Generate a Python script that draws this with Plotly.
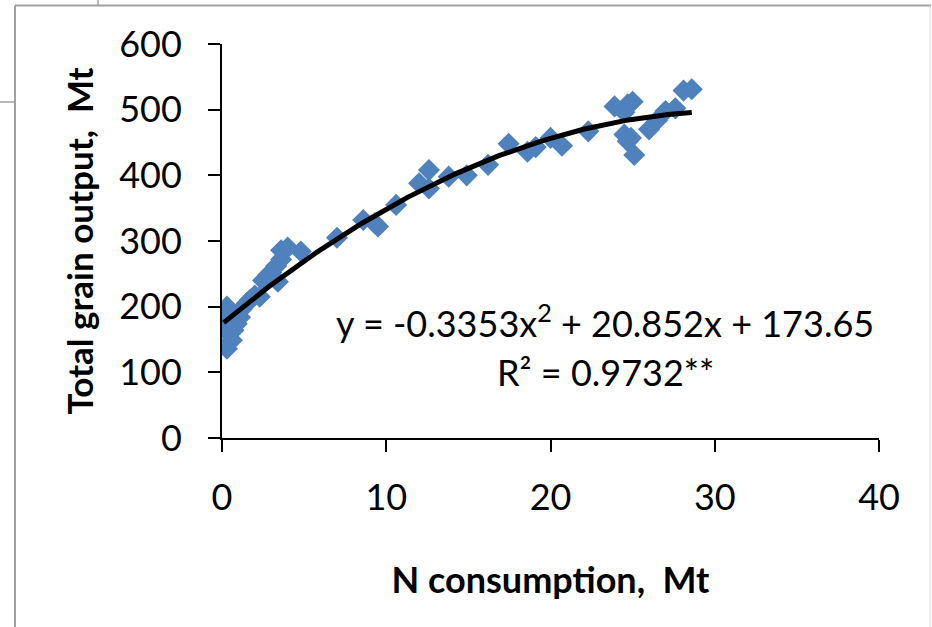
import numpy as np
import plotly.graph_objects as go

# N consumption (Mt) and total grain output (Mt)
n_consumption = [0.1, 0.2, 0.3, 0.3, 0.4, 0.5, 0.6, 0.7, 0.8, 0.9, 1.1, 1.2, 1.5, 1.7,
                 2.0, 2.3, 2.5, 2.8, 3.0, 3.4, 3.3, 3.6, 3.6, 4.0, 4.8,
                 7.0, 8.6, 9.3, 9.5, 10.6, 12.0, 12.6, 12.6, 13.8, 14.9, 16.2, 17.45,
                 18.6, 19.1, 20.0, 20.7, 22.3,
                 23.9, 24.5, 24.7, 25.0, 24.5, 24.7, 24.9, 25.1, 26.0, 26.5, 27.0,
                 27.6, 28.1, 28.6]
grain_output = [168, 187, 200, 136, 160, 193, 149, 164, 178, 174, 184, 196, 205, 210,
                217, 215, 240, 248, 252, 238, 262, 272, 286, 290, 284,
                305, 332, 327, 322, 355, 388, 408, 380, 398, 400, 416, 448,
                436, 443, 457, 445, 467,
                505, 496, 508, 512, 462, 452, 457, 431, 470, 484, 498,
                502, 529, 531]

# Fitted polynomial shown in the chart (highest order first)
fit_coeffs = [-0.3353, 20.852, 173.65]
equation_text = "y = -0.3353x<sup>2</sup> + 20.852x + 173.65"
r2_text = "R² = 0.9732**"

x_ticks = [0, 10, 20, 30, 40]
y_ticks = [0, 100, 200, 300, 400, 500, 600]

x_fit = np.linspace(min(n_consumption), max(n_consumption), 200)
y_fit = np.polyval(fit_coeffs, x_fit)

FONT = "Lato"
BLUE = "#4F81BD"

fig = go.Figure()
fig.add_trace(go.Scatter(
    x=n_consumption, y=grain_output, mode="markers",
    marker=dict(symbol="diamond", size=17, color=BLUE, line=dict(width=0)),
    showlegend=False, hoverinfo="x+y"))
fig.add_trace(go.Scatter(
    x=x_fit, y=y_fit, mode="lines",
    line=dict(color="black", width=5),
    showlegend=False, hoverinfo="skip"))

W, H = 932, 627
L, R, T, B = 222, 53, 44, 189
pw, ph = W - L - R, H - T - B


def px(xp):
    return (xp - L) / pw


def py(yp):
    return (H - B - yp) / ph


fig.update_layout(
    width=W, height=H,
    margin=dict(l=L, r=R, t=T, b=B, autoexpand=False),
    paper_bgcolor="white", plot_bgcolor="white",
    font=dict(family=FONT, color="black"),
    xaxis=dict(
        range=[0, 40], tickvals=x_ticks, ticktext=[str(v) for v in x_ticks],
        showgrid=False, zeroline=False, showline=True, linecolor="black", linewidth=2,
        ticks="outside", ticklen=12, tickwidth=2, tickcolor="black",
        tickfont=dict(size=36, family=FONT), ticklabelstandoff=15,
        title=dict(text="<b>N consumption,  Mt</b>", font=dict(size=36, family=FONT), standoff=51),
        automargin=False,
    ),
    yaxis=dict(
        range=[0, 600], tickvals=y_ticks, ticktext=[str(v) for v in y_ticks],
        showgrid=False, zeroline=False, showline=True, linecolor="black", linewidth=2,
        ticks="outside", ticklen=12, tickwidth=2, tickcolor="black",
        tickfont=dict(size=36, family=FONT), ticklabelstandoff=19,
        title=dict(text="<b>Total grain output,  Mt</b>", font=dict(size=35, family=FONT), standoff=15),
        automargin=False,
    ),
    annotations=[
        dict(text=equation_text, x=px(605), y=py(321), xref="paper", yref="paper",
             showarrow=False, xanchor="center", yanchor="middle", font=dict(size=36, family=FONT)),
        dict(text=r2_text, x=px(605), y=py(372), xref="paper", yref="paper",
             showarrow=False, xanchor="center", yanchor="middle", font=dict(size=36, family=FONT)),
    ],
    shapes=[
        dict(type="line", xref="paper", yref="paper", x0=px(15), x1=px(931), y0=py(5.5), y1=py(5.5),
             line=dict(color="#A0A0A0", width=2)),
        dict(type="line", xref="paper", yref="paper", x0=px(15), x1=px(15), y0=py(5.5), y1=py(640),
             line=dict(color="#A0A0A0", width=2)),
        dict(type="line", xref="paper", yref="paper", x0=px(930), x1=px(930), y0=py(5.5), y1=py(640),
             line=dict(color="#D8D8D8", width=1)),
        dict(type="line", xref="paper", yref="paper", x0=px(98), x1=px(98), y0=py(-5), y1=py(5.5),
             line=dict(color="#A0A0A0", width=1.5)),
        dict(type="line", xref="paper", yref="paper", x0=px(-5), x1=px(15), y0=py(102), y1=py(102),
             line=dict(color="#A0A0A0", width=1.5)),
    ],
)

fig.write_html("out.html", config={"displayModeBar": False},
               post_script="document.body.style.margin='0';document.body.style.overflow='hidden';")
